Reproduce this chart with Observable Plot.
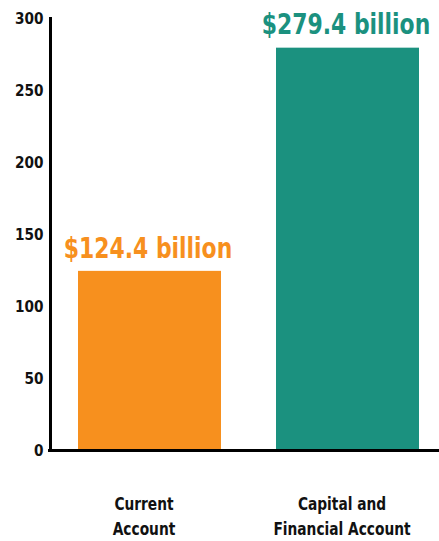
<!DOCTYPE html>
<html>
<head>
<meta charset="utf-8">
<script src="https://cdn.jsdelivr.net/npm/d3@7"></script>
<script src="https://cdn.jsdelivr.net/npm/@observablehq/plot@0.6"></script>
<style>
  html, body { margin: 0; padding: 0; background: #fff; }
  #chart svg { display: block; }
</style>
</head>
<body>
<div id="chart"></div>
<script>
const categories = ["Current Account", "Capital and Financial Account"];
const values = [124.4, 279.4];
const valueLabels = ["$124.4 billion", "$279.4 billion"];
const barColors = ["#F7901E", "#1B917F"];
const xTickLabels = ["Current\nAccount", "Capital and\nFinancial Account"];
const yTicks = [0, 50, 100, 150, 200, 250, 300];

const data = categories.map((c, i) => ({cat: c, value: values[i], label: valueLabels[i], color: barColors[i]}));
const FONT = "'Liberation Sans Narrow', 'DejaVu Sans Condensed', 'Roboto', sans-serif";

const chart = Plot.plot({
  width: 439,
  height: 541,
  marginTop: 18,
  marginBottom: 91,
  marginLeft: 50,
  marginRight: 0,
  style: {fontFamily: FONT, background: "#fff"},
  x: {domain: categories, range: [50, 447], paddingInner: 0.28, paddingOuter: 0.14, label: null},
  y: {domain: [0, 300], label: null},
  color: {type: "identity"},
  marks: [
    Plot.barY(data, {x: "cat", y: "value", fill: "color"}),
    Plot.text(data, {x: "cat", y: "value", text: "label", fill: "color", dy: -23, dx: -2, fontSize: 29, fontWeight: "bold", textAnchor: "middle"}),
    Plot.axisY({ticks: yTicks, tickSize: 0, tickPadding: 7, fontSize: 16, fontWeight: "bold", fill: "#111", label: null}),
    Plot.axisX({tickSize: 0, tickPadding: 42, fontSize: 17, fontWeight: "bold", fill: "#111", lineHeight: 1.45, dx: -6,
      tickFormat: d => xTickLabels[categories.indexOf(d)], label: null}),
    Plot.frame({anchor: "left", stroke: "#000", strokeWidth: 3}),
    Plot.ruleY([0], {stroke: "#000", strokeWidth: 3, insetLeft: -2})
  ]
});
document.getElementById("chart").appendChild(chart);
function squeeze(sel, k) {
  d3.select(chart).selectAll(sel).each(function() {
    const t = this.getAttribute("transform") || "";
    this.setAttribute("transform", (t + ` scale(${k},1)`).trim());
  });
}
squeeze('g[aria-label="text"] text', 0.84);
squeeze('g[aria-label="x-axis tick label"] text', 0.9);
squeeze('g[aria-label="y-axis tick label"] text', 0.95);
</script>
</body>
</html>
